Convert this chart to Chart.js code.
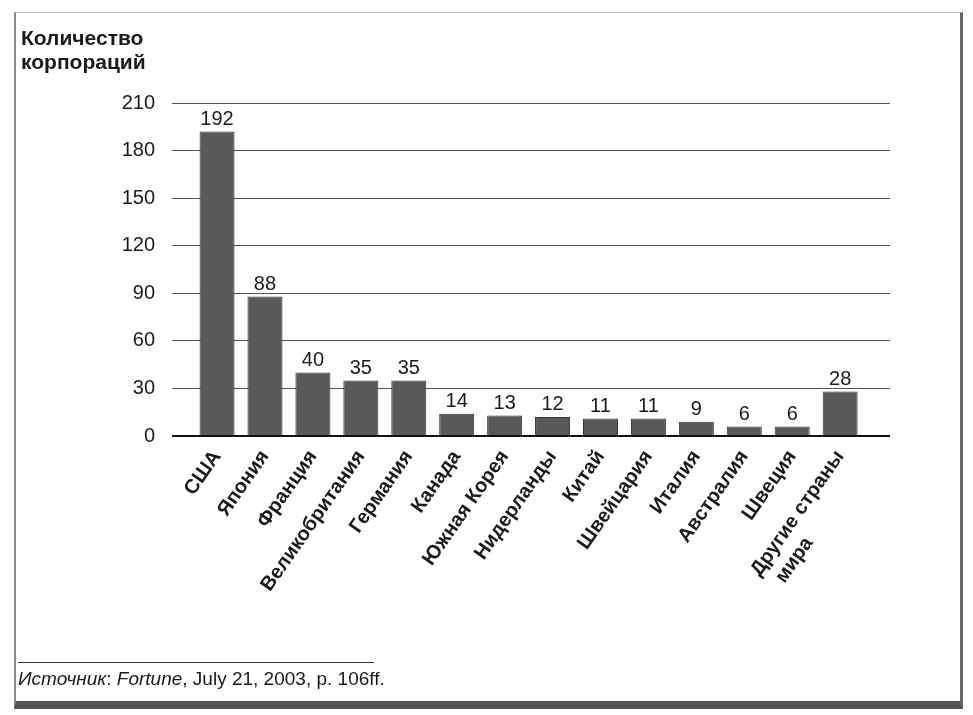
<!DOCTYPE html>
<html lang="ru">
<head>
  <meta charset="UTF-8">
  <title>Количество корпораций</title>
  <script src="https://cdn.jsdelivr.net/npm/chart.js"></script>
  <style>
    body {
      margin: 0;
      width: 973px;
      height: 715px;
      overflow: hidden;
      background: #fff;
      font-family: "Liberation Sans", Arial, sans-serif;
      color: #1a1a1a;
    }
    #frame {
      position: absolute;
      left: 14px;
      top: 12px;
      width: 944px;
      height: 688px;
      border-left: 2px solid #8a8a8a;
      border-right: 3px solid #6a6a6a;
      border-top: 1px solid #bbb;
      border-bottom: 8px solid #555;
    }
    #chart-wrap {
      position: absolute;
      left: 0;
      top: 0;
      width: 973px;
      height: 715px;
    }
    #ytitle {
      position: absolute;
      left: 21px;
      top: 26px;
      font-weight: bold;
      font-size: 21px;
      line-height: 24px;
    }
    #rule {
      position: absolute;
      left: 18px;
      top: 662px;
      width: 356px;
      border-top: 1px solid #333;
    }
    #source {
      position: absolute;
      left: 18px;
      top: 668px;
      font-size: 19px;
    }
  </style>
</head>
<body>
  <div id="frame"></div>
  <div id="chart-wrap"><canvas id="chart" width="973" height="715"></canvas></div>
  <div id="ytitle">Количество<br>корпораций</div>
  <div id="rule"></div>
  <div id="source"><i>Источник</i>: <i>Fortune</i>, July 21, 2003, p. 106ff.</div>

  <script>
    // данные
    const countries = ['США', 'Япония', 'Франция', 'Великобритания', 'Германия', 'Канада',
      'Южная Корея', 'Нидерланды', 'Китай', 'Швейцария', 'Италия', 'Австралия', 'Швеция',
      ['Другие страны', 'мира']];
    const corporations = [192, 88, 40, 35, 35, 14, 13, 12, 11, 11, 9, 6, 6, 28];
    const yTicks = [0, 30, 60, 90, 120, 150, 180, 210];

    const labelFont = { family: '"Liberation Sans", Arial, sans-serif', size: 20, weight: 'bold' };

    // вторая строка подписи выровнена влево: добиваем пробелами до ширины первой
    const ctx = document.getElementById('chart').getContext('2d');
    ctx.font = 'bold 20px "Liberation Sans", Arial, sans-serif';
    const tickLabels = countries.map(c => {
      if (!Array.isArray(c)) return c;
      const w = ctx.measureText(c[0]).width;
      let second = c[1];
      while (ctx.measureText(second + ' ').width <= w - 6) second += ' ';
      return [c[0], second];
    });

    // подписи значений над столбиками
    const valueLabels = {
      id: 'valueLabels',
      afterDatasetsDraw(chart) {
        const c = chart.ctx;
        const meta = chart.getDatasetMeta(0);
        c.save();
        c.font = '20px "Liberation Sans", Arial, sans-serif';
        c.fillStyle = '#1a1a1a';
        c.textAlign = 'center';
        c.textBaseline = 'bottom';
        meta.data.forEach((bar, i) => {
          c.fillText(corporations[i], bar.x, bar.y - 2);
        });
        c.restore();
      }
    };

    new Chart(ctx, {
      type: 'bar',
      data: {
        datasets: [{
          data: corporations.map((v, i) => ({ x: i, y: v })),
          backgroundColor: '#595959',
          borderColor: '#333',
          borderWidth: 1,
          barPercentage: 0.73,
          categoryPercentage: 1
        }]
      },
      options: {
        responsive: false,
        animation: false,
        layout: { padding: { top: 103, right: 83, left: 0, bottom: 0 } },
        plugins: { legend: { display: false }, tooltip: { enabled: false } },
        scales: {
          x: {
            type: 'linear',
            offset: false,
            min: -0.94,
            max: 14.04,
            grid: { display: false },
            border: { display: false },
            afterBuildTicks: (scale) => { scale.ticks = countries.map((c, i) => ({ value: i })); },
            afterFit: (scale) => { scale.height = 279; },
            ticks: {
              autoSkip: false,
              minRotation: 55,
              maxRotation: 55,
              padding: 2,
              color: '#1a1a1a',
              font: labelFont,
              callback: (v) => tickLabels[v]
            }
          },
          y: {
            min: 0,
            max: 210,
            afterBuildTicks: (scale) => { scale.ticks = yTicks.map(v => ({ value: v })); },
            afterFit: (scale) => { scale.width = 172; },
            border: { display: false },
            grid: {
              drawTicks: false,
              color: (c) => c.tick && c.tick.value === 0 ? '#111' : '#555',
              lineWidth: (c) => c.tick && c.tick.value === 0 ? 2 : 1
            },
            ticks: {
              padding: 17,
              color: '#1a1a1a',
              font: { family: '"Liberation Sans", Arial, sans-serif', size: 20 }
            }
          }
        }
      },
      plugins: [valueLabels]
    });
  </script>
</body>
</html>
